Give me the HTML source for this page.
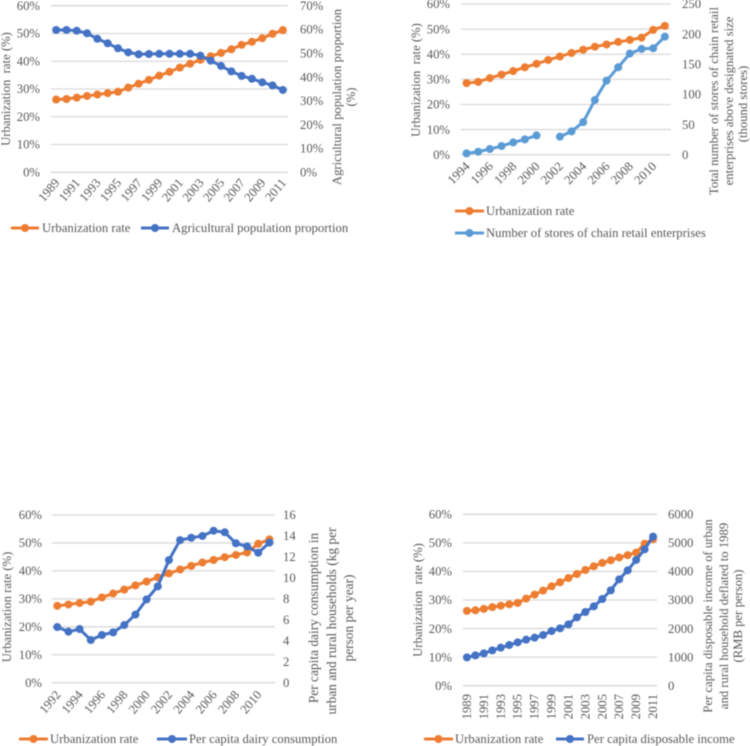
<!DOCTYPE html>
<html lang="en">
<head>
<meta charset="utf-8">
<title>Urbanization rate charts</title>
<style>
html,body{margin:0;padding:0;background:#fff;}
body{width:750px;height:746px;overflow:hidden;}
svg{display:block;filter:blur(0.4px);}
text{font-family:"Liberation Serif",serif;fill:#595959;font-size:12.7px;}
.big{font-size:13.4px;}
</style>
</head>
<body>
<svg id="figure" xmlns="http://www.w3.org/2000/svg" width="750" height="746" viewBox="0 0 750 746">
  <g id="chart-a">
    <text transform="translate(10,89) rotate(-90)" text-anchor="middle" xml:space="preserve">Urbanization  rate (%)</text>
    <g text-anchor="middle">
      <text transform="translate(341,97) rotate(-90)">Agricultural population proportion</text>
      <text transform="translate(355,97) rotate(-90)">(%)</text>
    </g>
    <text x="42" y="232">Urbanization rate</text>
    <text x="172" y="232">Agricultural population proportion</text>
  </g>
  <g id="chart-b">
    <text transform="translate(420,80) rotate(-90)" text-anchor="middle" xml:space="preserve">Urbanization  rate (%)</text>
    <g text-anchor="middle">
      <text transform="translate(718,101) rotate(-90)">Total number of stores of chain retail</text>
      <text transform="translate(733,101) rotate(-90)">enterprises  above designated size</text>
      <text transform="translate(747,104) rotate(-90)">(thound stores)</text>
    </g>
    <text x="486" y="215">Urbanization rate</text>
    <text x="486" y="237">Number of stores of chain retail enterprises</text>
  </g>
  <g id="chart-c">
    <text class="big" transform="translate(11,607) rotate(-90)" text-anchor="middle" style="font-size:12.7px">Urbanization rate (%)</text>
    <g text-anchor="middle" class="big">
      <text class="big" transform="translate(318,618) rotate(-90)">Per capita dairy consumption in</text>
      <text class="big" transform="translate(336,621) rotate(-90)">urban and rural households (kg per</text>
      <text class="big" transform="translate(353,618) rotate(-90)">person per year)</text>
    </g>
    <text x="50" y="743">Urbanization rate</text>
    <text x="189" y="743">Per capita dairy consumption</text>
  </g>
  <g id="chart-d">
    <text transform="translate(422,600) rotate(-90)" text-anchor="middle" xml:space="preserve">Urbanization  rate (%)</text>
    <g text-anchor="middle">
      <text transform="translate(712,616) rotate(-90)">Per capita disposable income of urban</text>
      <text transform="translate(728,616) rotate(-90)">and rural household deflated to 1989</text>
      <text transform="translate(742,616) rotate(-90)">(RMB per person)</text>
    </g>
    <text x="455" y="743">Urbanization rate</text>
    <text x="587" y="743">Per capita disposable income</text>
  </g>
</svg>
<script>
const yearsA = [1989,1990,1991,1992,1993,1994,1995,1996,1997,1998,1999,2000,2001,2002,2003,2004,2005,2006,2007,2008,2009,2010,2011];
const urbanA = [26.2,26.4,26.9,27.5,28,28.5,29,30.5,31.9,33.3,34.8,36.2,37.7,39.1,40.5,41.8,43,44.3,45.9,47,48.3,49.9,51.2];
const agriShare = [59.8,59.8,59.5,58.4,56.1,54.2,52.1,50.4,49.6,49.7,49.8,49.8,49.8,49.8,49,46.9,44.7,42.4,40.5,39.3,37.8,36.5,34.6];
const leftTicks = ["0%","10%","20%","30%","40%","50%","60%"];
const leftValues = [0,10,20,30,40,50,60];
const rightTicksA = ["0%","10%","20%","30%","40%","50%","60%","70%"];
const rightValuesA = [0,10,20,30,40,50,60,70];

const yearsB = [1994,1995,1996,1997,1998,1999,2000,2001,2002,2003,2004,2005,2006,2007,2008,2009,2010,2011];
const urbanB = [28.5,29,30.5,31.9,33.3,34.8,36.2,37.7,39.1,40.5,41.8,43,43.9,44.9,45.7,46.6,49.7,51.3];
const stores = [2.2,5,9.4,14.4,20.4,25.4,32,null,29.9,38.7,54,90.7,122.8,145,167.8,175.5,176.6,195.9];
const rightTicksB = ["0","50","100","150","200","250"];
const rightValuesB = [0,50,100,150,200,250];

const yearsC = [1992,1993,1994,1995,1996,1997,1998,1999,2000,2001,2002,2003,2004,2005,2006,2007,2008,2009,2010,2011];
const urbanC = [27.5,28,28.5,29,30.5,31.9,33.3,34.8,36.2,37.7,39.1,40.5,41.8,43,43.9,44.9,45.7,46.6,49.7,51.3];
const dairy = [5.31,4.87,5.12,4.07,4.55,4.8,5.5,6.5,7.95,9.19,11.7,13.6,13.83,14,14.5,14.35,13.3,13,12.4,13.36];
const rightTicksC = ["0","2","4","6","8","10","12","14","16"];
const rightValuesC = [0,2,4,6,8,10,12,14,16];

const yearsD = [1989,1990,1991,1992,1993,1994,1995,1996,1997,1998,1999,2000,2001,2002,2003,2004,2005,2006,2007,2008,2009,2010,2011];
const urbanD = [26.2,26.4,26.9,27.5,28,28.5,29,30.5,31.9,33.3,34.8,36.2,37.7,39.1,40.5,41.8,43,43.9,44.9,45.7,46.6,49.7,51.3];
const income = [992,1062,1132,1237,1331,1424,1518,1611,1681,1774,1914,2008,2148,2393,2580,2778,3035,3339,3724,4039,4401,4774,5218];
const rightTicksD = ["0","1000","2000","3000","4000","5000","6000"];
const rightValuesD = [0,1000,2000,3000,4000,5000,6000];

const ORANGE = "#ed7d31";
const BLUE = "#4472c4";
const SKY = "#5b9bd5";
const NS = "http://www.w3.org/2000/svg";

function make(parent, tag) {
  const el = document.createElementNS(NS, tag);
  parent.appendChild(el);
  return el;
}

function drawSeries(group, values, xOf, yOf, color, name) {
  const g = make(group, "g");
  
  
  let d = "";
  let pen = false;
  values.forEach(function (v, i) {
    if (v === null) { pen = false; return; }
    d += (pen ? "L" : "M") + xOf(i).toFixed(2) + " " + yOf(v).toFixed(2);
    pen = true;
  });
  const line = make(g, "path");
  
  
  line.setAttribute("d", d);
  line.setAttribute("fill", "none");
  line.setAttribute("stroke", color);
  line.setAttribute("stroke-width", "3");
  line.setAttribute("stroke-linejoin", "round");
  values.forEach(function (v, i) {
    if (v === null) return;
    const dot = make(g, "circle");
    
    
    dot.setAttribute("cx", xOf(i).toFixed(2));
    dot.setAttribute("cy", yOf(v).toFixed(2));
    dot.setAttribute("r", "4");
    dot.setAttribute("fill", color);
  });
}

function drawLegendKey(group, x0, x1, y, color, name) {
  const line = make(group, "line");
  
  
  line.setAttribute("x1", x0);
  line.setAttribute("x2", x1);
  line.setAttribute("y1", y);
  line.setAttribute("y2", y);
  line.setAttribute("stroke", color);
  line.setAttribute("stroke-width", "3");
  const dot = make(group, "circle");
  
  
  dot.setAttribute("cx", (x0 + x1) / 2);
  dot.setAttribute("cy", y);
  dot.setAttribute("r", "4");
  dot.setAttribute("fill", color);
}

function drawChart(c) {
  const group = document.getElementById(c.id);
  const band = (c.right - c.left) / c.categories.length;
  const xOf = function (i) { return c.left + band * (i + 0.5); };
  const yLeft = function (v) { return c.bottom - (v / 60) * (c.bottom - c.top); };
  const rightMax = c.rightValues[c.rightValues.length - 1];
  const yRight = function (v) { return c.bottom - (v / rightMax) * (c.bottom - c.top); };

  leftValues.forEach(function (v, i) {
    const grid = make(group, "line");
    
    
    grid.setAttribute("x1", c.left);
    grid.setAttribute("x2", c.right);
    grid.setAttribute("y1", yLeft(v));
    grid.setAttribute("y2", yLeft(v));
    grid.setAttribute("stroke", "#d9d9d9");
    grid.setAttribute("stroke-width", "1.3");
    const label = make(group, "text");
    
    
    label.setAttribute("x", c.leftLabelX);
    label.setAttribute("y", yLeft(v) + 4.2);
    label.setAttribute("text-anchor", "end");
    label.textContent = leftTicks[i];
  });

  c.rightValues.forEach(function (v, i) {
    const label = make(group, "text");
    
    
    label.setAttribute("x", c.rightLabelX);
    label.setAttribute("y", yRight(v) + 4.2);
    label.textContent = c.rightTicks[i];
  });

  c.categories.forEach(function (year, i) {
    if (i % 2 !== 0) return;
    const label = make(group, "text");
    
    
    label.setAttribute("text-anchor", "end");
    label.setAttribute("transform", "translate(" + (xOf(i) + c.xLabelDx) + "," + c.xLabelY + ") rotate(" + c.xLabelAngle + ")");
    label.textContent = String(year);
  });

  drawSeries(group, c.urban, xOf, yLeft, ORANGE, "urbanization-rate-series");
  drawSeries(group, c.secondary, xOf, yRight, c.secondaryColor, c.secondaryName);
  c.legendKeys.forEach(function (k) {
    drawLegendKey(group, k[0], k[1], k[2], k[3], k[4]);
  });
}

drawChart({
  id: "chart-a", categories: yearsA, urban: urbanA, secondary: agriShare,
  secondaryColor: BLUE, secondaryName: "agricultural-population-series",
  rightTicks: rightTicksA, rightValues: rightValuesA,
  left: 51, right: 288, top: 5.7, bottom: 172.3,
  leftLabelX: 40, rightLabelX: 300, xLabelDx: 4, xLabelY: 183, xLabelAngle: -50,
  legendKeys: [[11, 39, 228, ORANGE, "legend-urbanization"], [141, 169, 228, BLUE, "legend-agricultural"]]
});
drawChart({
  id: "chart-b", categories: yearsB, urban: urbanB, secondary: stores,
  secondaryColor: SKY, secondaryName: "chain-store-series",
  rightTicks: rightTicksB, rightValues: rightValuesB,
  left: 460.7, right: 670.7, top: 4, bottom: 154.7,
  leftLabelX: 450, rightLabelX: 682, xLabelDx: 4, xLabelY: 167, xLabelAngle: -45,
  legendKeys: [[455, 484, 211, ORANGE, "legend-urbanization"], [455, 484, 233, SKY, "legend-stores"]]
});
drawChart({
  id: "chart-c", categories: yearsC, urban: urbanC, secondary: dairy,
  secondaryColor: BLUE, secondaryName: "dairy-consumption-series",
  rightTicks: rightTicksC, rightValues: rightValuesC,
  left: 51.7, right: 275, top: 515, bottom: 682.7,
  leftLabelX: 42, rightLabelX: 283, xLabelDx: 4, xLabelY: 695, xLabelAngle: -50,
  legendKeys: [[19, 48, 739, ORANGE, "legend-urbanization"], [157, 187, 739, BLUE, "legend-dairy"]]
});
drawChart({
  id: "chart-d", categories: yearsD, urban: urbanD, secondary: income,
  secondaryColor: BLUE, secondaryName: "disposable-income-series",
  rightTicks: rightTicksD, rightValues: rightValuesD,
  left: 462.7, right: 657.3, top: 514.3, bottom: 685.7,
  leftLabelX: 452, rightLabelX: 668, xLabelDx: 4, xLabelY: 694, xLabelAngle: -90,
  legendKeys: [[424, 453, 739, ORANGE, "legend-urbanization"], [556, 584, 739, BLUE, "legend-income"]]
});
</script>
</body>
</html>
